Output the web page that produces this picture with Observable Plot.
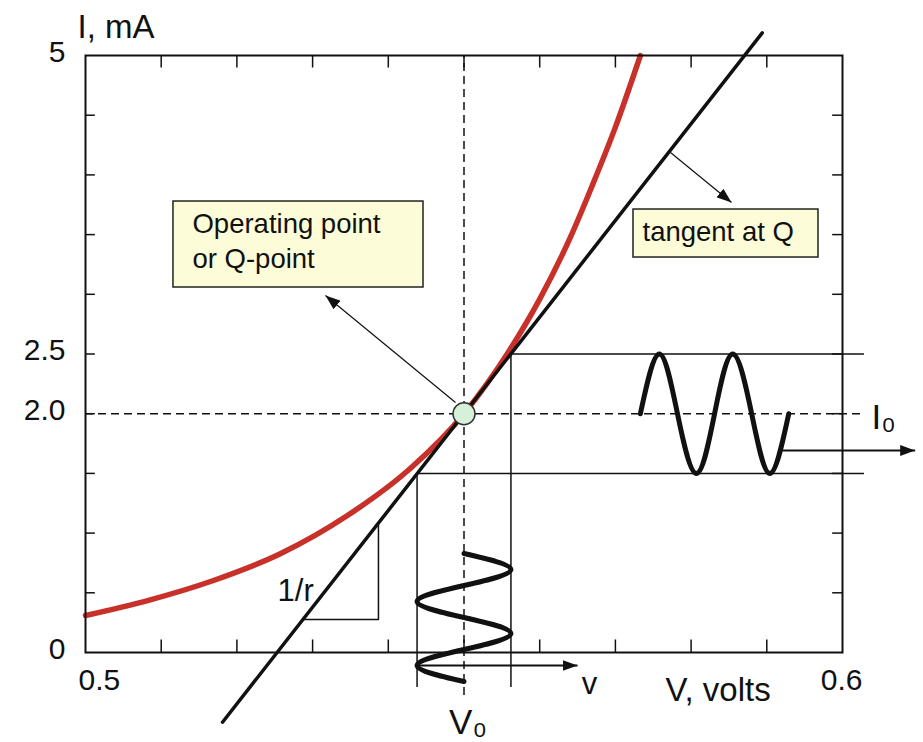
<!DOCTYPE html>
<html>
<head>
<meta charset="utf-8">
<script src="https://cdn.jsdelivr.net/npm/d3@7"></script>
<script src="https://cdn.jsdelivr.net/npm/@observablehq/plot@0.6"></script>
<style>
  html, body { margin: 0; padding: 0; background: #fff; }
</style>
</head>
<body>
<div id="chart"></div>
<script>
// Diode I–V characteristic: forward voltage (V) and current (mA)
const curveV = [0.5, 0.5082, 0.5169, 0.5258, 0.5346, 0.5429, 0.55, 0.556, 0.560, 0.564, 0.567, 0.570, 0.5733];
const curveI = [0.31, 0.435, 0.603, 0.829, 1.147, 1.541, 2.0, 2.53, 2.96, 3.47, 3.92, 4.40, 5.0];

// Operating (Q) point
const qV = 0.55;
const qI = 2.0;

// Tangent at Q (slope 1/r), end points
const tangentV = [0.5181, 0.5894];
const tangentI = [-0.584, 5.19];

// Small-signal swing around Q along the tangent
const swingV = [0.5438, 0.5562];
const swingI = [1.5, 2.5];
const swingFloor = -0.293;   // lower end of the voltage guide lines
const swingReach = 0.6029;   // right end of the current guide lines

// Small-signal voltage v (drawn downward beneath V0)
const sineVx = [0.55, 0.5562, 0.55, 0.5438, 0.55, 0.5562, 0.55, 0.5438, 0.55];
const sineVy = [0.829, 0.695, 0.561, 0.427, 0.293, 0.159, 0.025, -0.109, -0.243];

// Resulting current swing around I0
const sineIx = [0.5733, 0.5758, 0.5782, 0.5807, 0.5831, 0.5855, 0.5880, 0.5904, 0.5929];
const sineIy = [2.0, 2.5, 2.0, 1.5, 2.0, 2.5, 2.0, 1.5, 2.0];

// Slope triangle on the tangent
const triV = [0.5287, 0.5387, 0.5387];
const triI = [0.276, 0.276, 1.085];

// Axis ticks and labels
const xTicks = [0.51, 0.52, 0.53, 0.54, 0.55, 0.56, 0.57, 0.58, 0.59];
const yTicks = [0.5, 1.0, 1.5, 2.0, 2.5, 3.0, 3.5, 4.0, 4.5];
const yLabelValues = [0, 2.0, 2.5, 5];
const yLabelTexts = ["0", "2.0", "2.5", "5"];

const curve = curveV.map((v, k) => ({v, i: curveI[k]}));
const tangent = tangentV.map((v, k) => ({v, i: tangentI[k]}));
const sineV = sineVx.map((v, k) => ({v, i: sineVy[k]}));
const sineI = sineIx.map((v, k) => ({v, i: sineIy[k]}));
const triangle = triV.map((v, k) => ({v, i: triI[k]}));
const yLabels = yLabelValues.map((i, k) => ({i, t: yLabelTexts[k]}));

// Leader arrows for the callouts
const pointers = [
  {x1: 0.54888, y1: 2.094, x2: 0.53170, y2: 2.990},
  {x1: 0.57728, y1: 4.188, x2: 0.58534, y2: 3.769}
];
// Arrows marking the small-signal v and i
const signalArrows = [
  {x1: 0.5438, y1: -0.109, x2: 0.5650, y2: -0.109},
  {x1: 0.59207, y1: 1.692, x2: 0.6096, y2: 1.692}
];

const ink = "#111";
const fontFamily = '"Liberation Sans", Arial, Helvetica, sans-serif';

const chart = Plot.plot({
  width: 923,
  height: 742,
  marginLeft: 85,
  marginRight: 81,
  marginTop: 55,
  marginBottom: 90,
  x: {domain: [0.5, 0.6], axis: null},
  y: {domain: [0, 5], axis: null},
  style: {background: "#fff", fontFamily, overflow: "visible"},
  marks: [
    // inward ticks on all four sides
    Plot.ruleX(xTicks, {x: d => d, y1: 0, y2: 0.105, stroke: ink, strokeWidth: 1.5}),
    Plot.ruleX(xTicks, {x: d => d, y1: 4.895, y2: 5, stroke: ink, strokeWidth: 1.5}),
    Plot.ruleY(yTicks, {y: d => d, x1: 0.5, x2: 0.5013, stroke: ink, strokeWidth: 1.5}),
    Plot.ruleY(yTicks, {y: d => d, x1: 0.5987, x2: 0.6, stroke: ink, strokeWidth: 1.5}),

    // dashed guides through Q
    Plot.ruleY([qI], {y: d => d, x1: 0.5, x2: 0.6028, stroke: ink, strokeWidth: 1.5, strokeDasharray: "8,5"}),
    Plot.ruleX([qV], {x: d => d, y1: -0.36, y2: 5, stroke: ink, strokeWidth: 1.5, strokeDasharray: "8,5"}),

    // swing guide lines
    Plot.ruleX(swingV, {x: d => d, y1: swingFloor, y2: (d, k) => swingI[k], stroke: ink, strokeWidth: 1.5}),
    Plot.ruleY(swingI, {y: d => d, x1: (d, k) => swingV[k], x2: swingReach, stroke: ink, strokeWidth: 1.5}),

    // diode characteristic and its tangent
    Plot.line(curve, {x: "v", y: "i", stroke: "#c8302a", strokeWidth: 5.5, curve: "monotone-x"}),
    Plot.line(tangent, {x: "v", y: "i", stroke: ink, strokeWidth: 3.5}),
    Plot.line(triangle, {x: "v", y: "i", stroke: ink, strokeWidth: 1.5}),

    // signal waveforms
    Plot.line(sineV, {x: "v", y: "i", stroke: ink, strokeWidth: 5, curve: "natural"}),
    Plot.line(sineI, {x: "v", y: "i", stroke: ink, strokeWidth: 5, curve: "natural"}),

    // arrows
    Plot.link(pointers, {x1: "x1", y1: "y1", x2: "x2", y2: "y2", stroke: ink, strokeWidth: 1.2, markerEnd: "arrow"}),
    Plot.link(signalArrows, {x1: "x1", y1: "y1", x2: "x2", y2: "y2", stroke: ink, strokeWidth: 2, markerEnd: "arrow"}),

    // operating point
    Plot.dot([{v: qV, i: qI}], {x: "v", y: "i", r: 11, fill: "#d6f1d8", stroke: "#333", strokeWidth: 1.5}),

    // callout boxes
    Plot.rect([{x1: 0.51162, x2: 0.54465, y1: 3.057, y2: 3.777}], {x1: "x1", x2: "x2", y1: "y1", y2: "y2", fill: "#fcfcd8", stroke: "#222", strokeWidth: 1.5}),
    Plot.text(["Operating point\nor Q-point"], {x: 0.51162, y: 3.057, dx: 19, dy: -19, text: d => d, textAnchor: "start", lineAnchor: "bottom", lineHeight: 1.3, fontSize: 27.5, fill: ink}),
    Plot.rect([{x1: 0.57239, x2: 0.59683, y1: 3.308, y2: 3.710}], {x1: "x1", x2: "x2", y1: "y1", y2: "y2", fill: "#fcfcd8", stroke: "#222", strokeWidth: 1.5}),
    Plot.text(["tangent at Q"], {x: 0.57239, y: 3.308, dx: 9, dy: -17, text: d => d, textAnchor: "start", lineAnchor: "bottom", fontSize: 27.5, fill: ink}),

    // tick labels
    Plot.text(yLabels, {x: 0.5, y: "i", text: "t", dx: -20, dy: 6, textAnchor: "end", lineAnchor: "bottom", fontSize: 30, fill: ink}),
    Plot.text(["0.5"], {x: 0.5, y: 0, text: d => d, dx: -7, dy: 37, textAnchor: "start", lineAnchor: "bottom", fontSize: 30, fill: ink}),
    Plot.text(["0.6"], {x: 0.6, y: 0, text: d => d, dx: 20, dy: 37, textAnchor: "end", lineAnchor: "bottom", fontSize: 30, fill: ink}),

    // axis titles
    Plot.text(["I, mA"], {x: 0.5, y: 5, text: d => d, dx: -8, dy: -18, textAnchor: "start", lineAnchor: "bottom", fontSize: 33, fill: ink}),
    Plot.text(["V, volts"], {x: 0.6, y: 0, text: d => d, dx: -177, dy: 48, textAnchor: "start", lineAnchor: "bottom", fontSize: 33, fill: ink}),

    // signal labels
    Plot.text(["V₀"], {x: qV, y: 0, text: d => d, dx: 4, dy: 81, textAnchor: "middle", lineAnchor: "bottom", fontSize: 35, fill: ink}),
    Plot.text(["I₀"], {x: 0.6, y: qI, text: d => d, dx: 29, dy: 15, textAnchor: "start", lineAnchor: "bottom", fontSize: 35, fill: ink}),
    Plot.text(["v"], {x: 0.565, y: 0, text: d => d, dx: 12, dy: 41, textAnchor: "middle", lineAnchor: "bottom", fontSize: 31, fill: ink}),
    Plot.text(["1/r"], {x: triV[0], y: triI[0], text: d => d, dx: 11, dy: -19, textAnchor: "end", lineAnchor: "bottom", fontSize: 31, fill: ink}),

    Plot.frame({stroke: ink, strokeWidth: 2})
  ]
});

// solid, fixed-size arrowheads in place of the default open chevrons
d3.select(chart).selectAll("marker").each(function () {
  const m = d3.select(this);
  m.selectAll("*").remove();
  m.attr("viewBox", "0 0 15 11")
    .attr("refX", 15)
    .attr("refY", 5.5)
    .attr("markerUnits", "userSpaceOnUse")
    .attr("markerWidth", 15)
    .attr("markerHeight", 11)
    .attr("orient", "auto")
    .attr("fill", ink)
    .attr("stroke", "none");
  m.append("path").attr("d", "M0,0L15,5.5L0,11Z");
});

document.getElementById("chart").appendChild(chart);
</script>
</body>
</html>
